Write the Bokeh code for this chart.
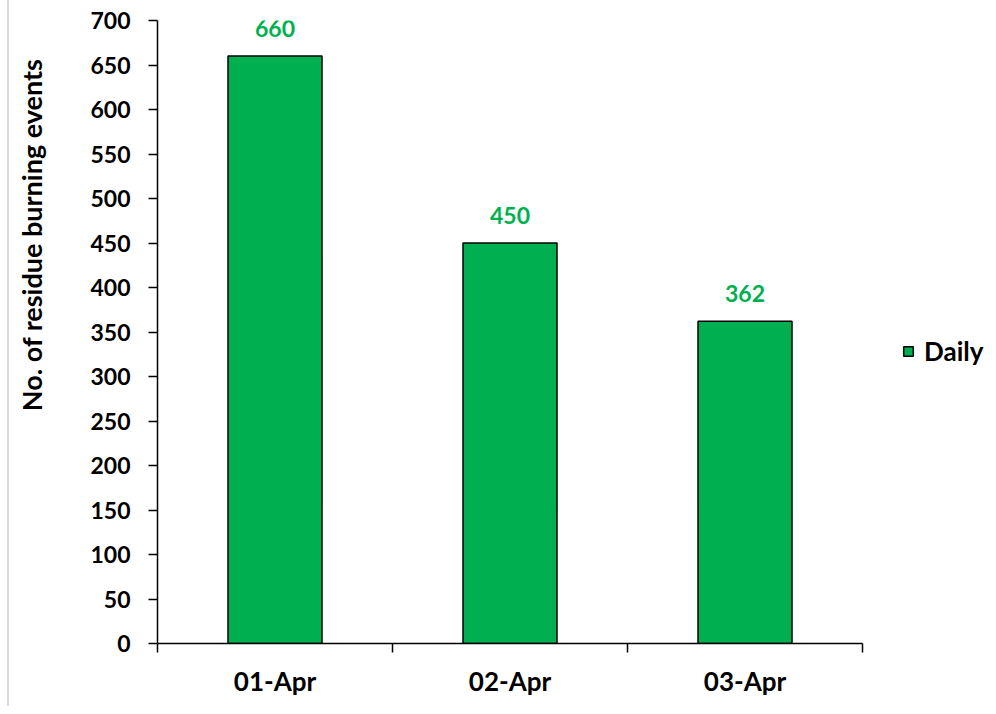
from bokeh.plotting import figure
from bokeh.models import (ColumnDataSource, FixedTicker, Legend, LegendItem,
                          LabelSet, Title, Range1d, LinearAxis)
from bokeh.core.properties import value
from bokeh.embed import file_html
from bokeh.resources import INLINE

categories = ["01-Apr", "02-Apr", "03-Apr"]
daily = [660, 450, 362]
y_ticks = list(range(0, 701, 50))
series_name = "Daily"
y_title = "No. of residue burning events"

FONT = "Lato"
GREEN = "#00B050"
FS_NUM = "23px"
FS_TXT = "26px"
FS_TITLE = "27px"

n = len(categories)
xs = [i + 0.5 for i in range(n)]
src = ColumnDataSource(dict(x=xs, top=daily, label=[str(v) for v in daily]))

W, H = 985, 706
LEFT = 148
AXIS_PX = 705                      # pixel length of the category axis
FRAME_PX = W - LEFT                # frame reaches the right edge (room for legend)
p = figure(width=W, height=H, output_backend="svg", toolbar_location=None,
           x_range=Range1d(0, n * FRAME_PX / AXIS_PX), y_range=Range1d(0, 700),
           min_border_left=LEFT, min_border_right=0, min_border_top=20,
           min_border_bottom=63)
p.styles = {"margin-left": "7px", "border-left": "2px solid #d9d9d9"}
p.outline_line_color = None
p.grid.grid_line_color = None

r = p.vbar(x="x", top="top", width=0.4, source=src, fill_color=GREEN,
           line_color="black", line_width=1.5)

# y axis
p.yaxis.ticker = FixedTicker(ticks=y_ticks)
p.yaxis.axis_line_color = "black"
p.yaxis.axis_line_width = 1.5
p.yaxis.major_tick_line_color = "black"
p.yaxis.major_tick_line_width = 1.5
p.yaxis.major_tick_in = 0
p.yaxis.major_tick_out = 9
p.yaxis.minor_tick_line_color = None
p.yaxis.major_label_standoff = 18
p.yaxis.major_label_text_font = FONT
p.yaxis.major_label_text_font_style = "bold"
p.yaxis.major_label_text_font_size = FS_NUM
p.yaxis.major_label_text_color = "black"

# x axis: boundary ticks, labels at centers, limited to the categories
p.xaxis.bounds = (0, n)
p.xaxis.ticker = FixedTicker(ticks=xs, minor_ticks=list(range(n + 1)))
p.xaxis.major_label_overrides = {x: c for x, c in zip(xs, categories)}
p.xaxis.axis_line_color = "black"
p.xaxis.axis_line_width = 1.5
p.xaxis.major_tick_line_color = None
p.xaxis.major_tick_out = 9
p.xaxis.minor_tick_line_color = "black"
p.xaxis.minor_tick_line_width = 1.5
p.xaxis.minor_tick_in = 0
p.xaxis.minor_tick_out = 9
p.xaxis.major_label_standoff = 12
p.xaxis.major_label_text_font = FONT
p.xaxis.major_label_text_font_style = "bold"
p.xaxis.major_label_text_font_size = FS_TXT
p.xaxis.major_label_text_color = "black"

# invisible spacer between tick labels and the y title
spacer = LinearAxis(ticker=FixedTicker(ticks=[0]), axis_line_alpha=0,
                    major_tick_line_alpha=0, minor_tick_line_alpha=0,
                    major_tick_in=0, major_tick_out=37, major_label_standoff=0,
                    major_label_text_alpha=0, major_label_text_font_size="1px")
p.add_layout(spacer, "left")

# y-axis title as a side title
ttl = Title(text=y_title, align="right", offset=38, standoff=6,
            text_font=FONT, text_font_style="bold", text_font_size=FS_TITLE,
            text_color="black")
p.add_layout(ttl, "left")

# data labels
labels = LabelSet(x="x", y="top", text="label", source=src, y_offset=19,
                  text_align="center", text_baseline="alphabetic",
                  text_font=value(FONT), text_font_style="bold",
                  text_font_size=FS_NUM, text_color=GREEN)
p.add_layout(labels)

legend = Legend(items=[LegendItem(label=series_name, renderers=[r])],
                location=(745, 276), glyph_width=12, glyph_height=12,
                label_text_font=FONT, label_text_font_style="bold",
                label_text_font_size=FS_TXT, label_text_color="black",
                border_line_color=None, background_fill_alpha=0,
                padding=5, margin=0, spacing=0, label_standoff=10)
p.add_layout(legend, "center")

open("out.html", "w").write(file_html(p, INLINE))
